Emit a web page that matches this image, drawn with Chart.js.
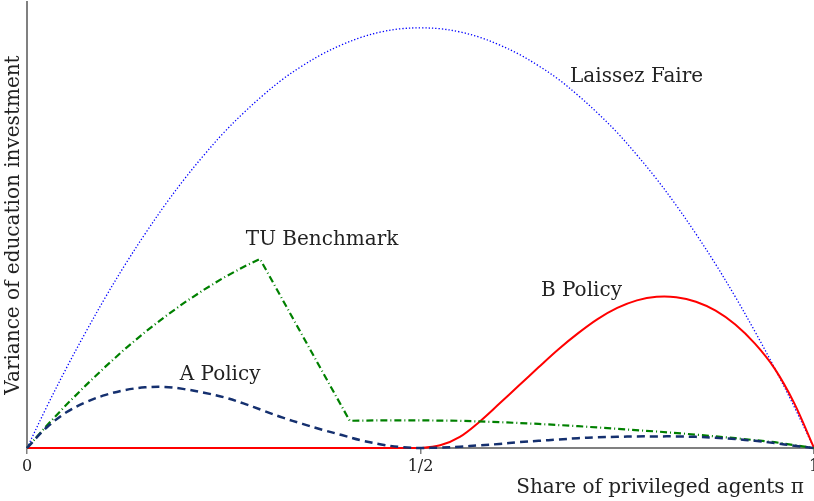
<!DOCTYPE html>
<html>
<head>
<meta charset="utf-8">
<script src="https://cdn.jsdelivr.net/npm/chart.js@4.4.0/dist/chart.umd.min.js"></script>
<style>
  html, body { margin: 0; padding: 0; background: #fff; }
  #wrap { width: 814px; height: 501px; }
</style>
</head>
<body>
<div id="wrap"><canvas id="grafico" width="814" height="501"></canvas></div>
<script>
// share of privileged agents (x grid)
const piGrid = [0, 0.025, 0.05, 0.075, 0.1, 0.125, 0.15, 0.175, 0.2, 0.225, 0.25, 0.275, 0.3, 0.325, 0.35, 0.375, 0.4, 0.425, 0.45, 0.475, 0.5,
                0.525, 0.55, 0.575, 0.6, 0.625, 0.65, 0.675, 0.7, 0.725, 0.75, 0.775, 0.8, 0.825, 0.85, 0.875, 0.9, 0.925, 0.95, 0.975, 1];

const laissezFaire = [0, 0.092, 0.179, 0.261, 0.339, 0.412, 0.480, 0.544, 0.603, 0.657, 0.707, 0.751, 0.791, 0.827, 0.857, 0.883, 0.904, 0.921, 0.933, 0.940, 0.942,
                      0.940, 0.933, 0.921, 0.904, 0.883, 0.857, 0.827, 0.791, 0.751, 0.707, 0.657, 0.603, 0.544, 0.480, 0.412, 0.339, 0.261, 0.179, 0.092, 0];

const aPolicy = [0, 0.046, 0.080, 0.103, 0.119, 0.130, 0.136, 0.137, 0.132, 0.124, 0.114, 0.100, 0.084, 0.068, 0.054, 0.041, 0.029, 0.017, 0.008, 0.002, 0,
                 0.001, 0.003, 0.006, 0.009, 0.013, 0.016, 0.019, 0.022, 0.024, 0.025, 0.026, 0.026, 0.026, 0.025, 0.023, 0.020, 0.016, 0.011, 0.005, 0];

const bPolicy = [0, 0, 0, 0, 0, 0, 0, 0, 0, 0, 0, 0, 0, 0, 0, 0, 0, 0, 0, 0, 0,
                 0.006, 0.025, 0.059, 0.099, 0.140, 0.181, 0.221, 0.257, 0.289, 0.314, 0.331, 0.339, 0.338, 0.328, 0.308, 0.277, 0.234, 0.178, 0.100, 0];

// TU benchmark has its own kinks, so its own x values
const tuX = [0, 0.025, 0.05, 0.075, 0.1, 0.125, 0.15, 0.175, 0.2, 0.225, 0.25, 0.275, 0.296, 0.41, 0.45, 0.5, 0.55, 0.6, 0.65, 0.7, 0.75, 0.8, 0.85, 0.9, 0.95, 1];
const tuY = [0, 0.050, 0.097, 0.141, 0.183, 0.223, 0.260, 0.294, 0.326, 0.355, 0.382, 0.406, 0.424, 0.061, 0.062, 0.062, 0.061, 0.058, 0.054, 0.049, 0.043, 0.037, 0.030, 0.022, 0.013, 0];

const xTicks = [0, 0.5, 1];
const xTickLabels = ['0', '1/2', '1'];

// curve labels: [text, x, y]
const curveLabels = [
    ['Laissez Faire', 0.690, 0.821],
    ['TU Benchmark', 0.278, 0.455],
    ['B Policy', 0.653, 0.341],
    ['A Policy', 0.194, 0.152]
];

const toPoints = (xs, ys) => xs.map((x, i) => ({ x: x, y: ys[i] }));
const gris = '#808080';
const fuente = 'DejaVu Serif';

const etiquetas = {
    id: 'etiquetas',
    afterDatasetsDraw(chart) {
        const ctx = chart.ctx;
        const sx = chart.scales.x, sy = chart.scales.y;
        ctx.save();
        ctx.font = '20px "' + fuente + '"';
        ctx.fillStyle = '#222';
        ctx.textAlign = 'left';
        ctx.textBaseline = 'alphabetic';
        curveLabels.forEach(([t, x, y]) => ctx.fillText(t, sx.getPixelForValue(x), sy.getPixelForValue(y)));
        ctx.restore();
    }
};

new Chart(document.getElementById('grafico'), {
    type: 'line',
    data: {
        datasets: [
            {
                label: 'A Policy',
                data: toPoints(piGrid, aPolicy),
                borderColor: '#15306f',
                borderWidth: 2.5,
                borderDash: [8, 5],
                tension: 0.35
            },
            {
                label: 'TU Benchmark',
                data: toPoints(tuX, tuY),
                borderColor: '#008000',
                borderWidth: 2.2,
                borderDash: [7, 3, 1, 3],
                tension: 0
            },
            {
                label: 'B Policy',
                data: toPoints(piGrid, bPolicy),
                borderColor: '#ff0000',
                borderWidth: 2,
                tension: 0.35
            },
            {
                label: 'Laissez Faire',
                data: toPoints(piGrid, laissezFaire),
                borderColor: '#0000ff',
                borderWidth: 1.3,
                borderDash: [1.3, 2],
                tension: 0.35
            }
        ]
    },
    options: {
        responsive: false,
        animation: false,
        clip: 4,
        layout: { padding: { top: 2, right: 0, left: 0, bottom: 0 } },
        elements: { point: { radius: 0 } },
        plugins: {
            legend: { display: false },
            tooltip: { enabled: false }
        },
        scales: {
            x: {
                type: 'linear',
                min: 0,
                max: 1,
                afterBuildTicks: s => { s.ticks = xTicks.map(v => ({ value: v })); },
                afterFit: s => { s.height = 53; s.paddingLeft = 0; s.paddingRight = 0; },
                grid: { display: true, drawOnChartArea: false, drawTicks: true, tickLength: 6, color: gris, lineWidth: 1.5 },
                border: { display: true, color: gris, width: 2 },
                ticks: {
                    autoSkip: false,
                    maxRotation: 0,
                    padding: 3,
                    color: '#222',
                    font: { family: fuente, size: 16 },
                    callback: (v, i) => xTickLabels[i]
                },
                title: {
                    display: true,
                    text: 'Share of privileged agents π\u2002',
                    align: 'end',
                    color: '#222',
                    font: { family: fuente, size: 20 },
                    padding: { top: 0, bottom: 1 }
                }
            },
            y: {
                type: 'linear',
                min: 0,
                max: 1,
                afterFit: s => { s.width = 27; s.paddingTop = 0; s.paddingBottom = 0; },
                grid: { display: false },
                border: { display: true, color: gris, width: 2 },
                ticks: { display: false },
                title: {
                    display: true,
                    text: 'Variance of education investment',
                    color: '#222',
                    font: { family: fuente, size: 20 },
                    padding: { top: 2, bottom: 0 }
                }
            }
        }
    },
    plugins: [etiquetas]
});
</script>
</body>
</html>
